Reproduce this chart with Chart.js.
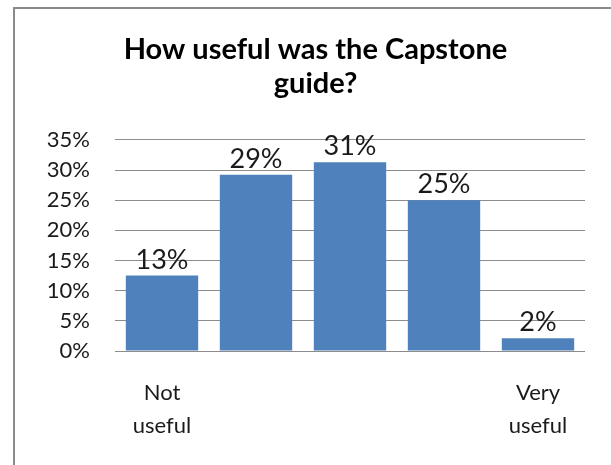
<!DOCTYPE html>
<html><head><meta charset="utf-8">
<script src="https://cdn.jsdelivr.net/npm/chart.js@4"></script>
<style>
html,body{margin:0;padding:0;background:#fff;}
#wrap{position:relative;width:611px;height:465px;overflow:hidden;}
#frame{position:absolute;left:13px;top:7px;right:-5px;bottom:-5px;border-top:2px solid #8a8a8a;border-left:2px solid #8a8a8a;pointer-events:none;}
canvas{position:absolute;left:0;top:0;}
</style></head><body>
<div id="wrap"><canvas id="c" width="611" height="465"></canvas><div id="frame"></div></div>
<script>
const categories = [["Not", "useful"], "", "", "", ["Very", "useful"]];
const values = [12.5, 29.2, 31.3, 25.0, 2.1];
const yTickMin = 0;
const yTickMax = 35;
const yTickStep = 5;
const titleLines = ["How useful was the Capstone", "guide?"];

const FONT = "Lato, 'Open Sans', sans-serif";

const dataLabels = {
  id: 'dataLabels',
  afterDatasetsDraw(chart) {
    const ctx = chart.ctx;
    const meta = chart.getDatasetMeta(0);
    ctx.save();
    ctx.font = "27px " + FONT;
    ctx.fillStyle = '#1a1a1a';
    ctx.textAlign = 'center';
    ctx.textBaseline = 'alphabetic';
    meta.data.forEach((bar, i) => {
      ctx.fillText(Math.round(chart.data.datasets[0].data[i]) + '%', bar.x, bar.y - 7);
    });
    ctx.restore();
  }
};

new Chart(document.getElementById('c'), {
  type: 'bar',
  data: {
    labels: categories,
    datasets: [{
      data: values,
      backgroundColor: '#4f81bd',
      borderWidth: 0,
      barPercentage: 0.77,
      categoryPercentage: 1.0,
      yAxisID: 'y'
    }]
  },
  options: {
    responsive: false,
    devicePixelRatio: 1,
    animation: false,
    layout: { padding: { left: 20, right: 0, top: 0, bottom: 0 } },
    plugins: {
      legend: { display: false },
      tooltip: { enabled: false },
      title: {
        display: true,
        text: titleLines,
        color: '#000',
        font: { family: FONT, size: 29, weight: 'bold', lineHeight: 1.17 },
        padding: { top: 33, bottom: 39 }
      }
    },
    scales: {
      x: {
        grid: { display: false, drawTicks: false },
        border: { display: false },
        ticks: {
          color: '#1a1a1a',
          font: { family: FONT, size: 22, lineHeight: 1.5 },
          padding: 25,
          maxRotation: 0,
          autoSkip: false
        },
        afterFit(scale) { scale.height = 114; }
      },
      y: {
        min: yTickMin,
        max: yTickMax,
        grid: { color: '#8c8c8c', lineWidth: 1, drawTicks: false },
        border: { display: false },
        ticks: {
          stepSize: yTickStep,
          color: '#1a1a1a',
          font: { family: FONT, size: 22 },
          padding: 25,
          callback: v => v + '%'
        },
        afterFit(scale) { scale.width = 95; }
      },
      yRight: {
        type: 'linear',
        position: 'right',
        display: true,
        grid: { display: false, drawTicks: false },
        border: { display: false },
        ticks: { display: false },
        afterFit(scale) { scale.width = 26; }
      }
    }
  },
  plugins: [dataLabels]
});
</script>
</body></html>
